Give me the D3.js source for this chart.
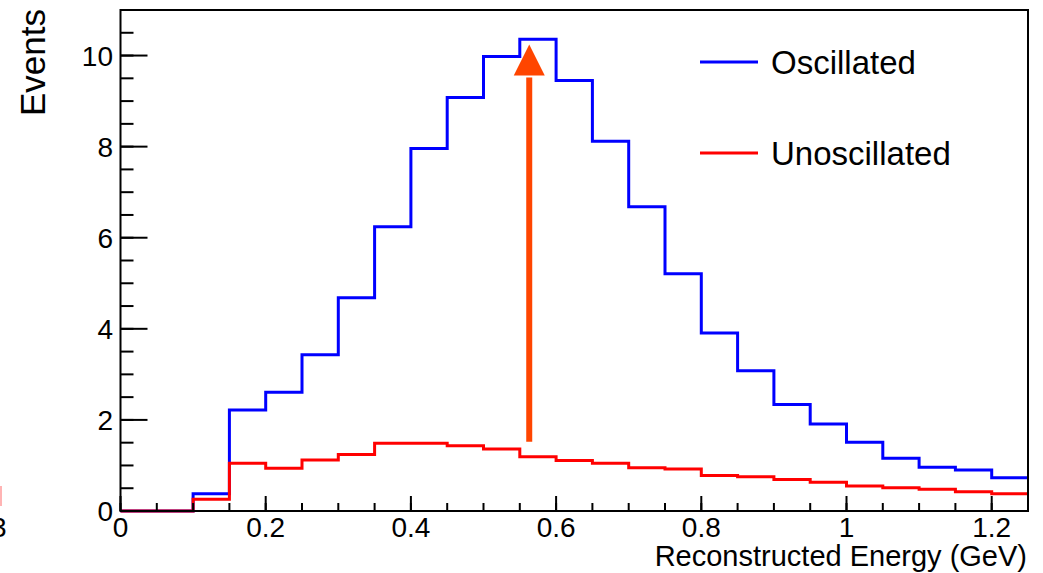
<!DOCTYPE html>
<html>
<head>
<meta charset="utf-8">
<script src="https://cdn.jsdelivr.net/npm/d3@7"></script>
<style>
  html, body { margin: 0; padding: 0; background: #fff; }
  svg { display: block; font-family: "Liberation Sans", Arial, Helvetica, sans-serif; }
</style>
</head>
<body>
<svg id="chart" width="1043" height="573"></svg>
<script>
// Binning: 25 bins of 0.05 GeV from 0 to 1.25 GeV
const binEdges = d3.range(0, 25).map(i => +(i * 0.05).toFixed(2));
const xMax = 1.25;

// Expected event counts per bin
const oscillated = [0, 0, 0.38, 2.22, 2.61, 3.43, 4.68, 6.24, 7.96, 9.08, 9.98, 10.36, 9.45,
                    8.12, 6.68, 5.21, 3.91, 3.08, 2.34, 1.91, 1.51, 1.16, 0.96, 0.90, 0.73];
const unoscillated = [0, 0, 0.26, 1.05, 0.94, 1.12, 1.24, 1.49, 1.49, 1.43, 1.36, 1.19, 1.11,
                      1.05, 0.95, 0.92, 0.78, 0.75, 0.69, 0.63, 0.55, 0.51, 0.48, 0.42, 0.38];

// Axis ticks
const xTicks = [0, 0.2, 0.4, 0.6, 0.8, 1, 1.2];
const xTickLabels = ["0", "0.2", "0.4", "0.6", "0.8", "1", "1.2"];
const yTicks = [0, 2, 4, 6, 8, 10];
const yTickLabels = ["0", "2", "4", "6", "8", "10"];

// Arrow annotation: energy position and event range
const arrowX = 0.563;
const arrowFrom = 1.52;
const arrowTo = 10.24;

const legendItems = ["Oscillated", "Unoscillated"];
const seriesColors = ["#0000ff", "#ff0000"];

const svg = d3.select("#chart");
const x = d3.scaleLinear().domain([0, xMax]).range([120.5, 1028]);
const y = d3.scaleLinear().domain([0, 11]).range([511, 10]);

// Stray glyphs at the left border
svg.append("rect").attr("x", 0).attr("y", 486).attr("width", 2).attr("height", 20).attr("fill", "#ffb4b4");
svg.append("text").attr("x", -9).attr("y", 537).attr("font-size", 28).attr("fill", "#000").text("3");

// Histogram step paths
function stepPoints(values) {
  const pts = values.map((v, i) => [binEdges[i], v]);
  pts.push([xMax, values[values.length - 1]]);
  return pts;
}
const line = d3.line().x(d => x(d[0])).y(d => y(d[1])).curve(d3.curveStepAfter);

svg.append("path").datum(stepPoints(oscillated))
  .attr("d", line).attr("fill", "none").attr("stroke", seriesColors[0]).attr("stroke-width", 3);
svg.append("path").datum(stepPoints(unoscillated))
  .attr("d", line).attr("fill", "none").attr("stroke", seriesColors[1]).attr("stroke-width", 3);

// Frame
svg.append("rect")
  .attr("x", x(0)).attr("y", y(11))
  .attr("width", x(xMax) - x(0)).attr("height", y(0) - y(11))
  .attr("fill", "none").attr("stroke", "#000").attr("stroke-width", 2);

// X axis: major ticks every 0.2, minor every 0.05
const xMinor = d3.range(0, 26).map(i => i * 0.05).filter(v => v <= xMax + 1e-9);
svg.append("g").selectAll("line").data(xMinor).join("line")
  .attr("x1", d => x(d)).attr("x2", d => x(d))
  .attr("y1", y(0)).attr("y2", y(0) - 8)
  .attr("stroke", "#000").attr("stroke-width", 2);
svg.append("g").selectAll("line").data(xTicks).join("line")
  .attr("x1", d => x(d)).attr("x2", d => x(d))
  .attr("y1", y(0)).attr("y2", y(0) - 15)
  .attr("stroke", "#000").attr("stroke-width", 2);
svg.append("g").selectAll("text").data(xTicks).join("text")
  .attr("x", d => x(d)).attr("y", 537)
  .attr("text-anchor", "middle").attr("font-size", 28)
  .text((d, i) => xTickLabels[i]);

// Y axis: major ticks every 2, minor every 0.5
const yMinor = d3.range(0, 23).map(i => i * 0.5);
svg.append("g").selectAll("line").data(yMinor).join("line")
  .attr("x1", x(0)).attr("x2", x(0) + 13)
  .attr("y1", d => y(d)).attr("y2", d => y(d))
  .attr("stroke", "#000").attr("stroke-width", 2);
svg.append("g").selectAll("line").data(yTicks).join("line")
  .attr("x1", x(0)).attr("x2", x(0) + 27)
  .attr("y1", d => y(d)).attr("y2", d => y(d))
  .attr("stroke", "#000").attr("stroke-width", 2);
svg.append("g").selectAll("text").data(yTicks).join("text")
  .attr("x", 113).attr("y", d => y(d) + 10)
  .attr("text-anchor", "end").attr("font-size", 28)
  .text((d, i) => yTickLabels[i]);

// Axis titles
svg.append("text").attr("x", 1027).attr("y", 566)
  .attr("text-anchor", "end").attr("font-size", 29)
  .text("Reconstructed Energy (GeV)");
svg.append("text").attr("transform", "translate(45,9) rotate(-90)")
  .attr("text-anchor", "end").attr("font-size", 35)
  .text("Events");

// Legend
const legend = svg.append("g").selectAll("g").data(legendItems).join("g")
  .attr("transform", (d, i) => `translate(0,${62 + i * 91})`);
legend.append("line").attr("x1", 700).attr("x2", 758).attr("y1", 0).attr("y2", 0)
  .attr("stroke", (d, i) => seriesColors[i]).attr("stroke-width", 3);
legend.append("text").attr("x", 771).attr("y", 12).attr("font-size", 33).text(d => d);

// Arrow
const ax = x(arrowX);
const headBase = y(arrowTo) + 31;
svg.append("line").attr("x1", ax).attr("x2", ax)
  .attr("y1", y(arrowFrom)).attr("y2", headBase + 2)
  .attr("stroke", "#ff4500").attr("stroke-width", 6);
svg.append("path")
  .attr("d", `M${ax},${y(arrowTo)} L${ax - 15.5},${headBase} L${ax + 15.5},${headBase} Z`)
  .attr("fill", "#ff4500");
</script>
</body>
</html>
